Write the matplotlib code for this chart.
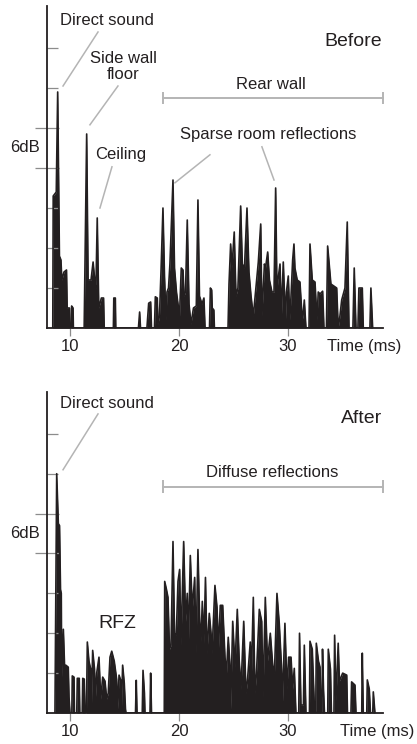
import matplotlib.pyplot as plt

plt.rcParams['font.family'] = ['Liberation Sans', 'DejaVu Sans']

# energy-time curve before treatment: time (ms) and level (3 dB steps)
before_ms = [8.42, 8.46, 8.74, 8.87, 9.03, 9.17, 9.25, 9.45, 9.68, 9.74, 9.95, 9.98,
             10.12, 10.15, 10.28, 10.31, 11.30, 11.53, 11.66, 11.93, 12.12, 12.30, 12.38, 12.50,
             12.64, 12.88, 13.08, 13.14, 13.98, 14.02, 14.16, 14.20, 16.28, 16.39, 16.47, 17.06,
             17.22, 17.40, 17.48, 17.75, 17.83, 18.01, 18.07, 18.21, 18.35, 18.53, 18.67, 18.81,
             18.90, 19.04, 19.17, 19.45, 19.59, 19.77, 20.05, 20.21, 20.37, 20.46, 20.60, 20.76,
             20.92, 21.10, 21.33, 21.59, 21.74, 21.88, 22.11, 22.29, 22.39, 22.80, 22.88, 23.00,
             23.05, 23.20, 23.25, 24.50, 24.59, 24.74, 24.86, 25.07, 25.23, 25.41, 25.66, 25.81,
             26.01, 26.24, 26.42, 26.61, 26.82, 27.06, 27.28, 27.50, 27.61, 27.84, 27.94, 28.14,
             28.30, 28.53, 28.72, 28.87, 28.99, 29.08, 29.27, 29.40, 29.57, 29.77, 29.86, 30.03,
             30.17, 30.28, 30.43, 30.55, 30.64, 30.85, 31.10, 31.31, 31.38, 31.50, 31.65, 31.93,
             32.02, 32.23, 32.48, 32.66, 32.78, 32.94, 33.18, 33.30, 33.53, 33.64, 33.94, 34.47,
             34.61, 34.77, 34.93, 35.23, 35.44, 35.60, 35.96, 36.08, 36.24, 36.42, 36.51, 36.82,
             36.91, 37.52, 37.61, 37.77]
before_level = [0, 3.3, 3.4, 5.9, 1.8, 1.7, 1.2, 1.4, 1.45, 0.5, 0.5, 0,
                0, 0.55, 0.5, 0, 0, 4.85, 1.2, 1.2, 1.65, 1.1, 1.0, 2.75,
                0.5, 0.75, 0.75, 0, 0, 0.75, 0.75, 0, 0, 0.4, 0, 0,
                0.62, 0.65, 0, 0, 0.78, 0.75, 0.1, 0.3, 1.4, 3.0, 1.3, 0.2,
                0.9, 1.0, 1.6, 3.7, 1.5, 0.9, 0.3, 1.5, 1.45, 0.8, 0.9, 2.7,
                0.6, 0.1, 0.5, 0.55, 3.2, 0.8, 0.6, 0.75, 0, 0, 1.0, 0.95,
                0.5, 0.45, 0, 0, 1.1, 2.1, 1.5, 2.4, 0.8, 1.0, 3.05, 1.6,
                1.5, 3.0, 1.4, 0.8, 0.3, 1.0, 1.65, 2.6, 0.3, 1.6, 1.5, 1.9,
                1.2, 0.9, 0.9, 3.5, 0.9, 1.2, 1.6, 0.3, 1.65, 0.2, 0.9, 1.3,
                0.2, 0.8, 1.7, 2.1, 1.5, 1.2, 1.15, 0.2, 0.3, 0.7, 0, 0,
                2.1, 1.2, 1.15, 0.2, 0.9, 0.85, 0.92, 0, 0, 2.05, 1.1, 1.0,
                0, 0.3, 0.7, 1.0, 2.65, 0, 0, 1.5, 0, 0, 1.0, 1.0,
                0, 0, 1.0, 0]

# energy-time curve after treatment
after_ms = [8.62, 8.78, 8.93, 9.04, 9.13, 9.20, 9.24, 9.39, 9.50, 9.61, 9.84, 9.91,
            10.00, 10.17, 10.21, 10.37, 10.41, 10.62, 10.67, 10.85, 10.90, 11.12, 11.17, 11.31,
            11.38, 11.51, 11.59, 11.74, 11.90, 11.97, 12.08, 12.25, 12.32, 12.45, 12.66, 12.82,
            13.00, 13.21, 13.37, 13.51, 13.67, 13.83, 14.06, 14.28, 14.38, 14.50, 14.68, 14.72,
            14.83, 14.98, 15.09, 15.14, 16.01, 16.08, 16.15, 16.63, 16.70, 16.83, 16.88, 17.34,
            17.40, 17.48, 18.65, 18.69, 18.85, 18.99, 19.13, 19.27, 19.45, 19.59, 19.75, 19.91,
            20.06, 20.18, 20.43, 20.61, 20.76, 20.87, 21.04, 21.22, 21.44, 21.56, 21.74, 21.90,
            22.02, 22.14, 22.29, 22.43, 22.57, 22.78, 22.94, 23.03, 23.30, 23.49, 23.62, 23.79,
            24.01, 24.22, 24.36, 24.52, 24.68, 24.74, 24.93, 25.14, 25.35, 25.53, 25.69, 25.94,
            26.15, 26.28, 26.54, 26.65, 26.82, 26.97, 27.11, 27.37, 27.59, 27.71, 27.92, 28.12,
            28.38, 28.60, 28.76, 28.99, 29.20, 29.40, 29.50, 29.72, 29.91, 30.06, 30.28, 30.43,
            30.58, 30.73, 30.99, 31.06, 31.19, 31.42, 31.50, 31.65, 31.97, 32.02, 32.23, 32.43,
            32.55, 32.60, 32.80, 32.94, 33.03, 33.12, 33.17, 33.26, 33.35, 33.65, 33.70, 33.90,
            33.99, 34.22, 34.28, 34.40, 34.61, 34.72, 35.02, 35.39, 35.46, 35.78, 35.84, 36.15,
            36.24, 36.77, 36.82, 36.91, 37.23, 37.28, 37.46, 37.57, 37.78, 37.83, 37.98]
after_level = [0, 6.0, 4.75, 4.7, 3.1, 3.0, 0.9, 2.1, 1.2, 1.2, 1.15, 0.4,
               0, 0, 0.93, 0.9, 0, 0, 0.87, 0.87, 0, 0, 0.87, 0.85,
               0, 0, 1.78, 1.3, 1.1, 0.2, 1.57, 1.1, 0.3, 1.0, 1.4, 0.35,
               0.9, 0.8, 0.35, 0.5, 1.4, 1.55, 1.3, 0.85, 0.1, 0.95, 0.8, 0.1,
               1.2, 0.75, 0.1, 0, 0, 0.82, 0, 0, 1.07, 0.5, 0, 0,
               1.0, 0, 0, 3.3, 3.1, 2.9, 1.6, 1.7, 4.3, 2.0, 1.95, 3.3,
               3.6, 1.7, 4.3, 2.3, 3.0, 1.8, 3.95, 2.6, 3.4, 1.5, 4.1, 2.3,
               1.8, 2.8, 1.75, 3.4, 1.5, 2.5, 2.0, 1.5, 3.2, 2.65, 1.6, 2.7,
               2.7, 1.4, 1.0, 1.9, 1.2, 0.1, 2.3, 1.15, 2.6, 1.3, 0.6, 2.3,
               0.5, 0.8, 1.78, 1.0, 2.9, 0.5, 1.0, 2.6, 2.3, 0.4, 2.9, 1.3,
               2.0, 1.2, 1.0, 3.0, 2.25, 1.2, 0.3, 2.25, 0.6, 1.4, 1.4, 0.6,
               1.12, 0, 0, 2.0, 0.2, 0.2, 1.7, 0, 0, 1.8, 1.6, 0.1,
               0, 1.75, 1.3, 1.15, 0, 0, 1.6, 0.6, 0, 0, 1.6, 1.1,
               0, 0, 1.95, 0.3, 1.75, 0.8, 1.0, 0.95, 0, 0, 0.78, 0.7,
               0, 0, 1.5, 0, 0, 0.83, 0.6, 0, 0, 0.53, 0]

time_ticks = [10, 20, 30]
level_ticks_long = [4, 5]
level_ticks_short = [1, 2, 3, 6, 7]

INK = '#231f20'
GREY = '#b4b4b4'


def setupAxes(ax):
    ax.set_xlim(7.89, 38.72)
    ax.set_ylim(0, 8.05)
    for s in ['top', 'right']:
        ax.spines[s].set_visible(False)
    ax.spines['left'].set_linewidth(1.3)
    ax.spines['bottom'].set_linewidth(1.3)
    ax.spines['left'].set_color(INK)
    ax.spines['bottom'].set_color(INK)

    ax.set_yticks(level_ticks_long)
    ax.set_yticks(level_ticks_short, minor=True)
    ax.tick_params(axis='y', which='major', direction='inout', length=16.6,
                   width=0.9, color='#8c8c8c', labelleft=False)
    ax.tick_params(axis='y', which='minor', direction='in', length=8,
                   width=0.9, color='#8c8c8c')
    ax.set_xticks(time_ticks)
    ax.set_xticklabels([str(t) for t in time_ticks])
    ax.tick_params(axis='x', direction='out', length=6, width=0.9,
                   color='#8c8c8c', labelsize=12, labelcolor=INK, pad=2)
    ax.text(-0.065, 4.5, '6dB', transform=ax.get_yaxis_transform(),
            ha='center', va='center', fontsize=12, color=INK)


def drawCurve(ax, ms, level):
    ax.fill_between(ms, level, 0, color=INK, linewidth=0)
    ax.plot(ms, level, color=INK, linewidth=1.2)


def pointer(ax, x1, y1, x2, y2):
    ax.plot([x1, x2], [y1, y2], color=GREY, linewidth=1.1, clip_on=False)


def bracket(ax, x1, x2, y):
    ax.plot([x1, x2], [y, y], color=GREY, linewidth=1.4, clip_on=False)
    for x in (x1, x2):
        ax.plot([x, x], [y - 0.13, y + 0.13], color=GREY, linewidth=1.4, clip_on=False)


def note(ax, x, y, s, size=12, ha='center'):
    ax.text(x, y, s, ha=ha, va='center', fontsize=size, color=INK,
            linespacing=1.1, clip_on=False)


fig = plt.figure(figsize=(4.17, 7.44), dpi=100)
ax1 = fig.add_axes([47 / 417, 1 - 328 / 744, 336 / 417, 322 / 744])
ax2 = fig.add_axes([47 / 417, 1 - 713 / 744, 336 / 417, 321 / 744])

# before
setupAxes(ax1)
drawCurve(ax1, before_ms, before_level)
note(ax1, 13.39, 7.68, 'Direct sound')
pointer(ax1, 12.57, 7.4, 9.36, 6.05)
note(ax1, 14.86, 6.54, 'Side wall\nfloor')
pointer(ax1, 14.40, 6.05, 11.83, 5.08)
note(ax1, 14.68, 4.33, 'Ceiling')
pointer(ax1, 13.85, 4.03, 12.75, 3.0)
note(ax1, 38.62, 7.15, 'Before', size=14, ha='right')
note(ax1, 28.44, 6.08, 'Rear wall')
bracket(ax1, 18.53, 38.72, 5.75)
note(ax1, 28.17, 4.83, 'Sparse room reflections')
pointer(ax1, 22.84, 4.33, 19.63, 3.63)
pointer(ax1, 27.61, 4.53, 28.72, 3.7)
ax1.annotate('Time (ms)', xy=(36.97, 0), xytext=(0, -13), textcoords='offset points',
             ha='center', va='center', fontsize=12, color=INK, annotation_clip=False)

# after
setupAxes(ax2)
drawCurve(ax2, after_ms, after_level)
note(ax2, 13.39, 7.75, 'Direct sound')
pointer(ax2, 12.57, 7.5, 9.36, 6.1)
note(ax2, 38.62, 7.38, 'After', size=14, ha='right')
note(ax2, 28.53, 6.03, 'Diffuse reflections')
bracket(ax2, 18.53, 38.72, 5.68)
note(ax2, 14.31, 2.25, 'RFZ', size=14)
ax2.annotate('Time (ms)', xy=(38.17, 0), xytext=(0, -13), textcoords='offset points',
             ha='center', va='center', fontsize=12, color=INK, annotation_clip=False)

fig.savefig('out.png', dpi=100)
